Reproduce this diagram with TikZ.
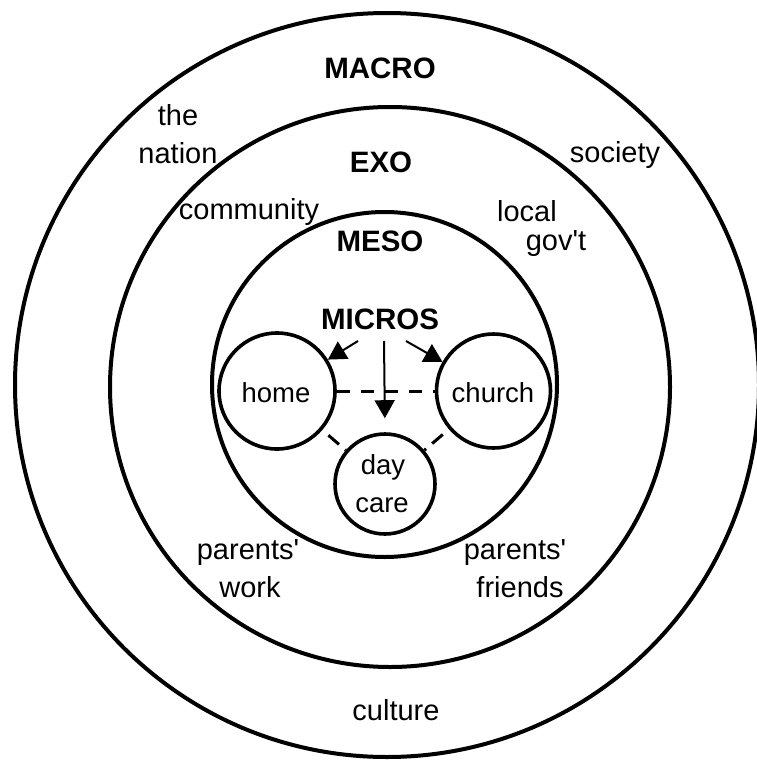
\documentclass[tikz,border=0pt]{standalone}
\usepackage{fontspec}
\setmainfont{Liberation Sans}[Ligatures=TeXOff]
\usetikzlibrary{arrows.meta}
\begin{document}
\begin{tikzpicture}[x=1pt,y=-1pt,
  ring/.style={circle, draw, line width=4pt, inner sep=0pt},
  sysc/.style={circle, draw, line width=3.6pt, inner sep=0pt},
  lab/.style={anchor=base, inner sep=0pt, font=\fontsize{29}{34}\selectfont},
  inlab/.style={anchor=base, inner sep=0pt, font=\fontsize{27.5}{32}\selectfont},
  head/.style={anchor=base, inner sep=0pt, font=\bfseries\fontsize{29.5}{34}\selectfont},
  arr/.style={line width=2pt, -{Triangle[length=18pt,width=20pt]}},
  link/.style={line width=3pt, dash pattern=on 13pt off 11pt}
]
\useasboundingbox (0,0) rectangle (757,760);
% rings
\node[ring, minimum size=744pt] (macro) at (387,385) {};
\node[ring, minimum size=560pt] (exo) at (390,387) {};
\node[ring, minimum size=345pt] (meso) at (384.5,384.5) {};
% micro systems
\node[sysc, minimum size=116pt] (home) at (277,391) {};
\node[sysc, minimum size=114pt] (church) at (493.5,391) {};
\node[sysc, minimum size=100pt] (daycare) at (385,484) {};
% headings
\node[head] (tmacro) at (380,78) {MACRO};
\node[head] (texo) at (381,172) {EXO};
\node[head] (tmeso) at (380,251) {MESO};
\node[head] (tmicros) at (380,329) {MICROS};
% ring labels
\node[lab] (the) at (178,125) {the};
\node[lab] (nation) at (178,163) {nation};
\node[lab] (society) at (615,162) {society};
\node[lab] (community) at (249,219) {community};
\node[lab] (local) at (527,221) {local};
\node[lab] (govt) at (556,250) {gov't};
\node[lab] (pw1) at (248,559) {parents'};
\node[lab] (pw2) at (250,597) {work};
\node[lab] (pf1) at (515,559) {parents'};
\node[lab] (pf2) at (520,597) {friends};
\node[lab] (culture) at (396,720) {culture};
% circle labels
\node[inlab] (thome) at (276,402) {home};
\node[inlab] (tchurch) at (493,402) {church};
\node[inlab] (tday) at (383,474) {day};
\node[inlab] (tcare) at (382,512) {care};
% arrows
\coordinate (m1) at (358,341);
\coordinate (m2) at (384,341);
\coordinate (m3) at (406,341);
\draw[arr] (m1) -- (home);
\draw[arr] (m3) -- (church);
\draw[arr, shorten >=14pt] (m2) -- (daycare.north);
% dashed links
\draw[link] (home) -- (church);
\draw[link, dash pattern=on 14pt off 8pt, dash phase=14pt] (home) -- (daycare);
\draw[link, dash pattern=on 14pt off 8pt, dash phase=14pt] (church) -- (daycare);
\end{tikzpicture}
\end{document}
